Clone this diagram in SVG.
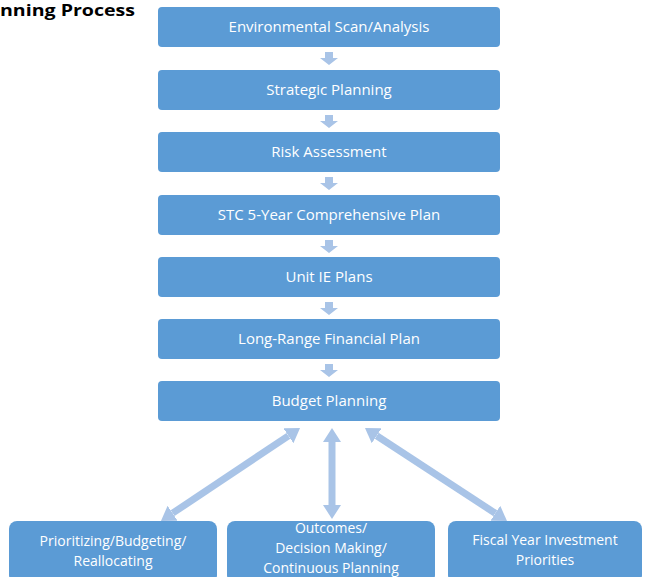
<svg xmlns="http://www.w3.org/2000/svg" width="647" height="577" viewBox="0 0 647 577">
<style>
.box{fill:#5b9bd5;}
.t{font-family:"Open Sans","Liberation Sans",Arial,sans-serif;font-size:15px;fill:#ffffff;text-anchor:middle;}
.s{font-size:14px;}
.title{font-family:"Open Sans","Liberation Sans",Arial,sans-serif;font-size:16px;font-weight:bold;fill:#000000;}
.dn{fill:#a9c4e7;}
.conn{stroke:#a9c4e7;stroke-width:7;fill:none;}
</style>
<defs>
<marker id="ah" viewBox="0 0 14 18" refX="0" refY="9" markerWidth="14" markerHeight="18" markerUnits="userSpaceOnUse" orient="auto-start-reverse">
<path d="M0,0 L14,9 L0,18 z" fill="#a9c4e7"/>
</marker>
</defs>
<rect width="647" height="577" fill="#ffffff"/>
<text class="title" x="0" y="16" textLength="135" lengthAdjust="spacingAndGlyphs">nning Process</text>
<g id="connectors">
<path class="dn" d="M325,52 h8 v6 h5 l-9,7 l-9,-7 h5 z"/>
<path class="dn" d="M325,115 h8 v6 h5 l-9,7 l-9,-7 h5 z"/>
<path class="dn" d="M325,177 h8 v6 h5 l-9,7 l-9,-7 h5 z"/>
<path class="dn" d="M325,240 h8 v6 h5 l-9,7 l-9,-7 h5 z"/>
<path class="dn" d="M325,302 h8 v6 h5 l-9,7 l-9,-7 h5 z"/>
<path class="dn" d="M325,364 h8 v6 h5 l-9,7 l-9,-7 h5 z"/>
<line class="conn" x1="288.4" y1="435.8" x2="172.6" y2="513.2" marker-start="url(#ah)" marker-end="url(#ah)"/>
<line class="conn" x1="332" y1="442" x2="332" y2="505" marker-start="url(#ah)" marker-end="url(#ah)"/>
<line class="conn" x1="376.7" y1="435.7" x2="495.3" y2="513.3" marker-start="url(#ah)" marker-end="url(#ah)"/>
</g>
<g id="n1"><rect class="box" x="158" y="7" width="342" height="40" rx="4"/><text class="t" x="329" y="32">Environmental Scan/Analysis</text></g>
<g id="n2"><rect class="box" x="158" y="70" width="342" height="40" rx="4"/><text class="t" x="329" y="95">Strategic Planning</text></g>
<g id="n3"><rect class="box" x="158" y="132" width="342" height="40" rx="4"/><text class="t" x="329" y="157">Risk Assessment</text></g>
<g id="n4"><rect class="box" x="158" y="195" width="342" height="40" rx="4"/><text class="t" x="329" y="220">STC 5-Year Comprehensive Plan</text></g>
<g id="n5"><rect class="box" x="158" y="257" width="342" height="40" rx="4"/><text class="t" x="329" y="282">Unit IE Plans</text></g>
<g id="n6"><rect class="box" x="158" y="319" width="342" height="40" rx="4"/><text class="t" x="329" y="344">Long-Range Financial Plan</text></g>
<g id="n7"><rect class="box" x="158" y="381" width="342" height="40" rx="4"/><text class="t" x="329" y="406">Budget Planning</text></g>
<g id="n8"><rect class="box" x="9" y="521" width="208" height="62" rx="8"/><text class="t s" x="113" y="546">Prioritizing/Budgeting/</text><text class="t s" x="113" y="566">Reallocating</text></g>
<g id="n9"><rect class="box" x="227" y="521" width="208" height="62" rx="8"/><text class="t s" x="331" y="533">Outcomes/</text><text class="t s" x="331" y="553">Decision Making/</text><text class="t s" x="331" y="573">Continuous Planning</text></g>
<g id="n10"><rect class="box" x="448" y="521" width="194" height="62" rx="8"/><text class="t s" x="545" y="545">Fiscal Year Investment</text><text class="t s" x="545" y="565">Priorities</text></g>
</svg>
